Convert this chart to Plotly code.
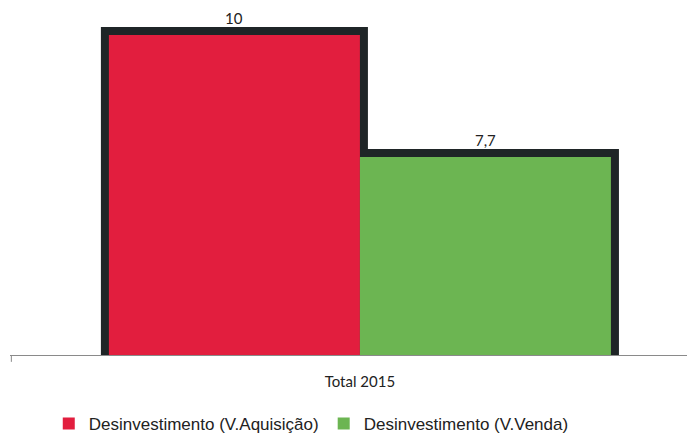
import plotly.graph_objects as go

categories = ["Total 2015"]
series_names = ["Desinvestimento (V.Aquisição)", "Desinvestimento (V.Venda)"]
series_values = [[10], [7.7]]
series_colors = ["#E21E3E", "#6CB552"]
border_color = "#1F2527"

def fmt(v):
    return ("%g" % v).replace(".", ",")

fig = go.Figure()
offsets = [-1, 0]
bar_w = 1
# dark border layers first
for vals, off in zip(series_values, offsets):
    fig.add_trace(go.Bar(
        x=categories, y=vals, width=bar_w, offset=off,
        marker=dict(color=border_color, line=dict(color=border_color, width=16)),
        showlegend=False, hoverinfo="skip",
    ))
# coloured fills on top
for name, vals, col, off in zip(series_names, series_values, series_colors, offsets):
    fig.add_trace(go.Bar(
        x=categories, y=vals, width=bar_w, offset=off, name=name,
        marker=dict(color=col, line=dict(width=0)),
    ))
    # value labels above each bar
    for v in vals:
        fig.add_annotation(x=off + bar_w / 2, y=v, text=fmt(v), showarrow=False,
                           yanchor="bottom", yshift=7, borderpad=0,
                           font=dict(family="Lato", size=15, color="#222"))

# small tick at the start of the category axis
fig.add_shape(type="line", xref="paper", yref="paper", x0=0.002, x1=0.002, y0=0, y1=-0.02,
              line=dict(color="#8A8A8A", width=1))

fig.update_layout(
    width=679, height=427,
    barmode="overlay",
    paper_bgcolor="white", plot_bgcolor="white",
    margin=dict(l=2, r=0, t=4, b=80, autoexpand=False),
    showlegend=True,
    legend=dict(orientation="h", x=0.445, xanchor="center",
                yref="container", y=0.026, yanchor="middle",
                font=dict(family="Liberation Sans", size=17, color="#222"),
                itemwidth=30, traceorder="normal"),
)
fig.update_xaxes(range=[-1.394, 1.303], showgrid=False, zeroline=False,
                 showline=True, linecolor="#8A8A8A", linewidth=1,
                 tickfont=dict(family="Lato", size=15, color="#222"), ticks="",
                 ticklabelstandoff=13)
fig.update_yaxes(range=[3.967, 10.434], visible=False, showgrid=False, zeroline=False)

fig.write_html("out.html")
